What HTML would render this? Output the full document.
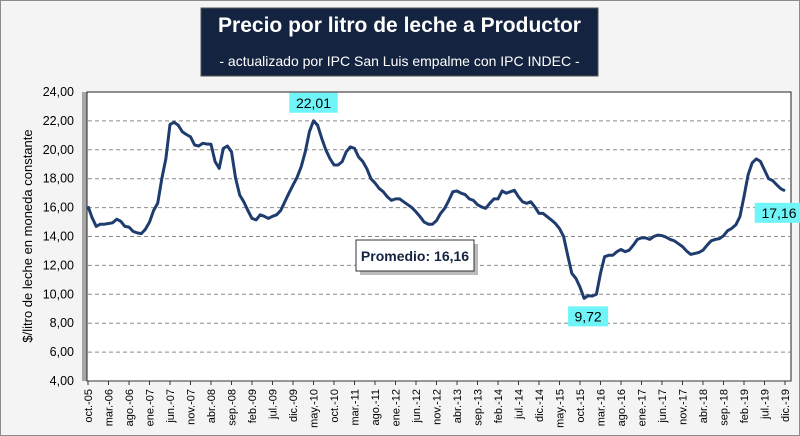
<!DOCTYPE html>
<html><head><meta charset="utf-8"><style>
html,body{margin:0;padding:0;background:#fff;}
svg{display:block;font-family:"Liberation Sans",sans-serif;}
</style></head><body>
<svg width="800" height="436" viewBox="0 0 800 436">
<rect x="0.5" y="0.5" width="799" height="435" fill="#f4f4f4" stroke="#8c8c8c"/>
<g>
<rect x="201" y="8" width="397" height="68" fill="#14233f" stroke="#555"/>
<text x="399.5" y="32" text-anchor="middle" fill="#fff" font-size="21" font-weight="bold">Precio por litro de leche a Productor</text>
<text x="399.5" y="66" text-anchor="middle" fill="#fff" font-size="14">- actualizado por IPC San Luis empalme con IPC INDEC -</text>
</g>
<rect x="82" y="92" width="6" height="289" fill="#a6a6a6"/>
<rect x="87" y="92" width="704" height="289" fill="#fff" stroke="#222" stroke-width="1"/>
<g id="grid"></g>
<g id="yt"></g>
<g id="xt"></g>
<text transform="translate(32,236) rotate(-90)" text-anchor="middle" font-size="13" fill="#000">$/litro de leche en moneda constante</text>
<path id="line" fill="none" stroke="#1f3c6e" stroke-width="3" stroke-linejoin="round"/>
<g>
<rect x="360" y="244" width="118" height="31" fill="#bbb"/>
<rect x="356" y="240" width="118" height="31" fill="#fff" stroke="#333"/>
<text x="415" y="261" text-anchor="middle" font-size="14" font-weight="bold" fill="#14233f">Promedio: 16,16</text>
</g>
<g id="labels"></g>
</svg>
<script>
const yTicks=[4,6,8,10,12,14,16,18,20,22,24];
const xLabels=["oct.-05","mar.-06","ago.-06","ene.-07","jun.-07","nov.-07","abr.-08","sep.-08","feb.-09","jul.-09","dic.-09","may.-10","oct.-10","mar.-11","ago.-11","ene.-12","jun.-12","nov.-12","abr.-13","sep.-13","feb.-14","jul.-14","dic.-14","may.-15","oct.-15","mar.-16","ago.-16","ene.-17","jun.-17","nov.-17","abr.-18","sep.-18","feb.-19","jul.-19","dic.-19"];
const values=[16.1,15.3,14.7,14.85,14.85,14.9,14.95,15.2,15.05,14.7,14.65,14.35,14.25,14.2,14.5,15.0,15.8,16.3,18.0,19.4,21.76,21.9,21.7,21.25,21.06,20.9,20.33,20.26,20.45,20.4,20.38,19.18,18.72,20.1,20.26,19.87,18.03,16.87,16.4,15.8,15.25,15.15,15.5,15.4,15.25,15.4,15.5,15.8,16.4,17.0,17.56,18.1,18.83,19.87,21.25,22.01,21.7,20.8,20.0,19.4,18.95,18.95,19.18,19.87,20.2,20.1,19.5,19.2,18.7,18.0,17.7,17.33,17.1,16.75,16.5,16.6,16.6,16.4,16.2,16.0,15.7,15.37,15.0,14.85,14.85,15.1,15.6,15.95,16.5,17.1,17.15,17.0,16.9,16.6,16.5,16.2,16.05,15.95,16.3,16.6,16.6,17.15,17.0,17.1,17.2,16.75,16.4,16.3,16.4,16.05,15.6,15.6,15.37,15.15,14.9,14.55,14.0,12.7,11.45,11.1,10.5,9.72,9.9,9.88,10.0,11.45,12.6,12.7,12.7,12.95,13.1,12.95,13.05,13.4,13.8,13.9,13.9,13.8,14.0,14.1,14.06,13.95,13.8,13.7,13.5,13.3,13.0,12.76,12.83,12.9,13.05,13.4,13.7,13.8,13.85,14.05,14.4,14.56,14.8,15.37,16.76,18.27,19.1,19.37,19.2,18.6,18.0,17.87,17.57,17.3,17.16];
const callouts=[{i:55,t:"22,01",dx:0,dy:-18},{i:121,t:"9,72",dx:4,dy:18},{i:170,t:"17,16",dx:-6,dy:22}];
const NS="http://www.w3.org/2000/svg";
const X0=88,DX=4.1,Y0=381,YS=14.45;
function xs(i){return X0+i*DX;}
function ys(v){return Y0-(v-4)*YS;}
function mk(t,a,p){const e=document.createElementNS(NS,t);for(const k in a)e.setAttribute(k,a[k]);p.appendChild(e);return e;}
const grid=document.getElementById('grid'),yt=document.getElementById('yt'),xt=document.getElementById('xt'),lab=document.getElementById('labels');
yTicks.forEach(v=>{
 if(v>4&&v<24){const l=mk('line',{x1:88,x2:790,y1:ys(v),y2:ys(v),stroke:'#8a8a8a','stroke-dasharray':'4 3'},grid);
 
 }
 const t=mk('text',{x:74,y:ys(v)+4,'text-anchor':'end','font-size':'12.5'},yt);
 t.textContent=v.toFixed(2).replace('.',',');
 
 
});
mk('line',{x1:87,x2:791,y1:381,y2:381,stroke:'#333'},xt);
xLabels.forEach((s,k)=>{
 const x=xs(k*5);
 mk('line',{x1:x,x2:x,y1:381,y2:385,stroke:'#333'},xt);
 const t=mk('text',{transform:`translate(${x+4},389) rotate(-90)`,'text-anchor':'end','font-size':'11'},xt);
 t.textContent=s;
 
 
});
document.getElementById('line').setAttribute('d',values.map((v,i)=>(i?'L':'M')+xs(i).toFixed(1)+' '+ys(v).toFixed(1)).join(' '));
callouts.forEach(c=>{
 const x=xs(c.i)+c.dx,y=ys(values[c.i])+c.dy;
 const w=c.t.length*8.5+6;
 const r=mk('rect',{x:x-w/2,y:y-10,width:w,height:20,fill:'#6ff5f8'},lab);
 
 
 const t=mk('text',{x:x,y:y+5,'text-anchor':'middle','font-size':'14'},lab);
 t.textContent=c.t;
 
 
});
</script>
</body></html>
